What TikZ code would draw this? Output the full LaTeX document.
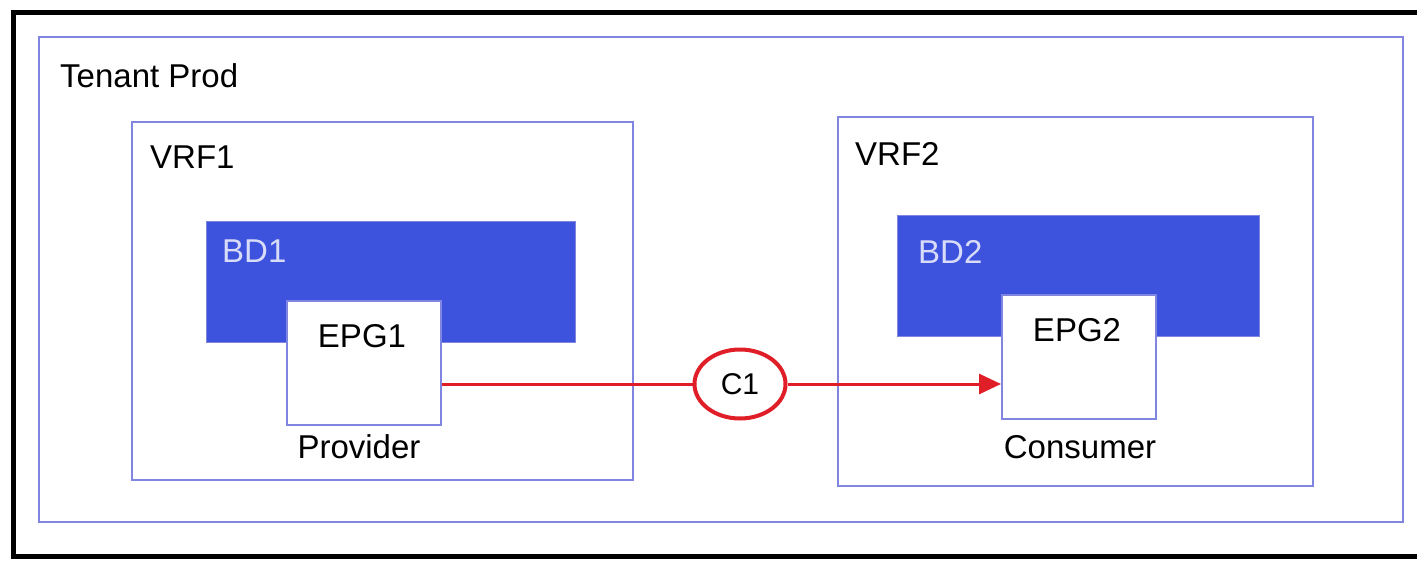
\documentclass[tikz,border=0pt]{standalone}
\usepackage{fontspec}
\setmainfont{Liberation Sans}
\usetikzlibrary{arrows.meta,shapes.geometric}
\definecolor{boxline}{RGB}{128,134,224}
\definecolor{bdfill}{RGB}{61,82,221}
\definecolor{bdtext}{RGB}{216,220,248}
\definecolor{linkred}{RGB}{224,30,40}
\tikzset{
  frame/.style={draw=boxline, line width=2pt},
  bdbox/.style={draw=boxline, fill=bdfill, line width=1pt},
  epgbox/.style={draw=boxline, fill=white, line width=2pt},
  lbl/.style={font=\fontsize{33}{40}\selectfont, inner sep=0pt, anchor=base west},
  clbl/.style={font=\fontsize{33}{40}\selectfont, inner sep=0pt, anchor=base},
  link/.style={draw=linkred, line width=3pt},
}
\begin{document}
\begin{tikzpicture}[x=1pt,y=-1pt]
\useasboundingbox (0,0) rectangle (1417,560);
\clip (0,0) rectangle (1417,560);
\fill[white] (0,0) rectangle (1417,560);
% outer black frame (right side off picture)
\draw[black, line width=5pt] (13,12) rectangle (1440,556);
% tenant
\draw[frame] (39,37) rectangle (1403,522);
\node[lbl] (tenant) at (60,87) {Tenant Prod};
% VRF1
\draw[frame] (132,122) rectangle (633,480);
\node[lbl] (vrf1) at (150,168) {VRF1};
\draw[bdbox] (206,221) rectangle (575,342);
\node[lbl, text=bdtext] (bd1) at (222,262) {BD1};
\node[epgbox, minimum width=154pt, minimum height=124pt, inner sep=0pt] (epg1) at (364,363) {};
\node[clbl] (epg1t) at (362,347) {EPG1};
\node[clbl] (prov) at (359,458) {Provider};
% VRF2
\draw[frame] (838,117) rectangle (1313,486);
\node[lbl] (vrf2) at (855,165) {VRF2};
\draw[bdbox] (897,215) rectangle (1259,336);
\node[lbl, text=bdtext] (bd2) at (918,263) {BD2};
\node[epgbox, minimum width=154pt, minimum height=124pt, inner sep=0pt] (epg2) at (1079,357) {};
\node[clbl] (epg2t) at (1077,341) {EPG2};
\node[clbl] (cons) at (1080,458) {Consumer};
% contract
\node[ellipse, draw=linkred, line width=4pt, fill=white, minimum width=91pt, minimum height=69pt, inner sep=0pt] (c1) at (740,384) {};
\node[font=\fontsize{30}{36}\selectfont, inner sep=0pt, anchor=base] (c1t) at (740,394) {C1};
\draw[link] (epg1.east |- c1.west) -- (c1.west);
\draw[link, -{Triangle[length=22pt,width=20pt]}] (c1.east) -- (c1.east -| epg2.west);
\end{tikzpicture}
\end{document}
